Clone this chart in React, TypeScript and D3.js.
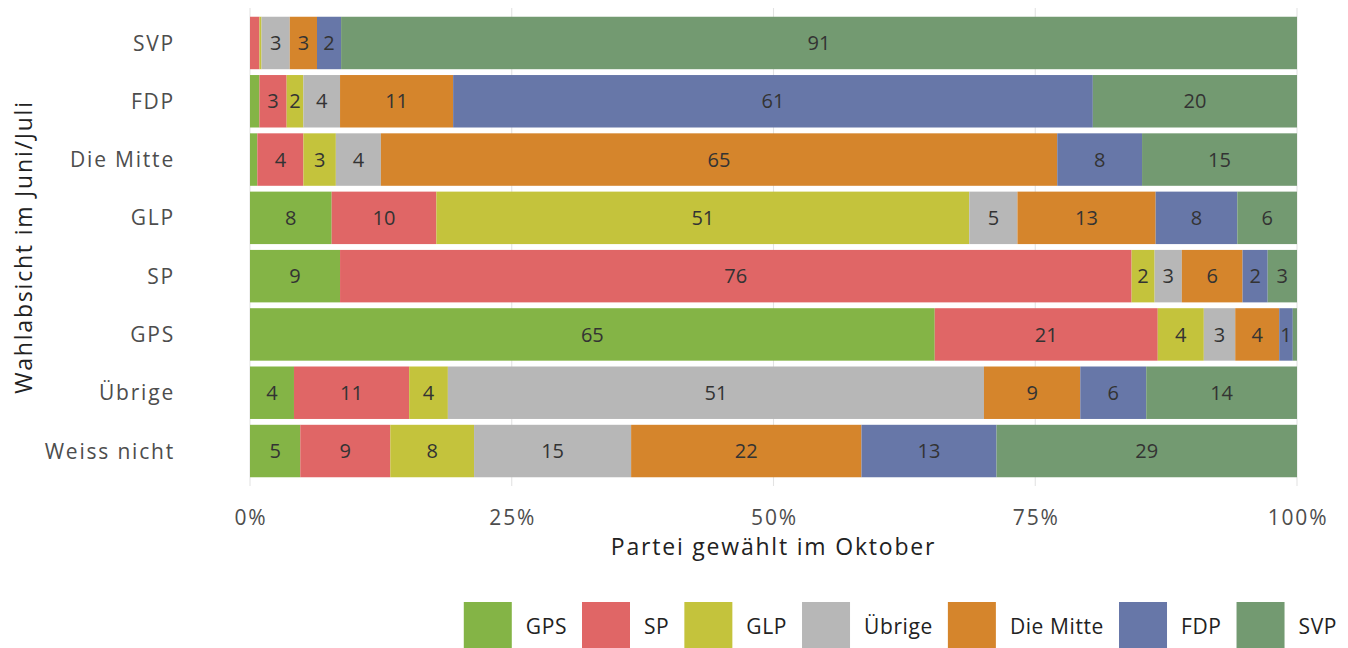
import React, { useEffect, useRef } from 'react';
import * as d3 from 'd3';

// rows from top to bottom (Wahlabsicht im Juni/Juli)
const rows = ['SVP', 'FDP', 'Die Mitte', 'GLP', 'SP', 'GPS', 'Übrige', 'Weiss nicht'];
// parties in stacking order (left to right)
const parties = ['GPS', 'SP', 'GLP', 'Übrige', 'Die Mitte', 'FDP', 'SVP'];
const partyColors = ['#84B446', '#E06666', '#C4C33C', '#B7B7B7', '#D5852C', '#6777A8', '#739A71'];

// share (%) per row, one array per party, in the order of `rows`
const gps = [0, 0.9, 0.7, 7.8, 8.6, 65.4, 4.2, 4.8];
const sp = [0.9, 2.6, 4.4, 10.0, 75.6, 21.3, 11.0, 8.6];
const glp = [0.2, 1.6, 3.1, 50.9, 2.2, 4.4, 3.7, 8.0];
const uebrige = [2.7, 3.5, 4.3, 4.6, 2.6, 3.0, 51.2, 15.0];
const mitte = [2.6, 10.8, 64.6, 13.2, 5.8, 4.2, 9.2, 22.0];
const fdp = [2.3, 61.1, 8.1, 7.8, 2.4, 1.3, 6.3, 12.9];
const svp = [91.3, 19.5, 14.8, 5.7, 2.8, 0.4, 14.4, 28.7];

const xTicks = [0, 25, 50, 75, 100];

const width = 1348;
const height = 648;
const mainFont = '"Open Sans", "Noto Sans", sans-serif';

export default function App() {
  const svgRef = useRef<SVGSVGElement>(null);

  useEffect(() => {
    const svg = d3.select(svgRef.current);
    svg.selectAll('*').remove();

    const series = [gps, sp, glp, uebrige, mitte, fdp, svp];
    const table = rows.map((r, i) => {
      const o: any = { row: r };
      parties.forEach((p, j) => (o[p] = series[j][i]));
      return o;
    });

    const x = d3.scaleLinear().domain([0, 100]).range([250, 1297]);
    const y = d3.scaleBand().domain(rows).range([8, 486]).paddingInner(0.1).paddingOuter(0.15);
    const color = d3.scaleOrdinal<string, string>().domain(parties).range(partyColors);

    // grid
    svg
      .append('g')
      .selectAll('line')
      .data(xTicks)
      .enter()
      .append('line')
      .attr('x1', d => x(d))
      .attr('x2', d => x(d))
      .attr('y1', 8)
      .attr('y2', 486)
      .attr('stroke', '#e3e3e3')
      .attr('stroke-width', 1.1);

    const stacked = d3.stack<any>().keys(parties)(table);

    const layers = svg
      .append('g')
      .selectAll('g')
      .data(stacked)
      .enter()
      .append('g')
      .attr('fill', d => color(d.key));

    layers
      .selectAll('rect')
      .data(d => d)
      .enter()
      .append('rect')
      .attr('x', d => x(d[0]))
      .attr('width', d => x(d[1]) - x(d[0]))
      .attr('y', d => y(d.data.row) as number)
      .attr('height', y.bandwidth());

    // segment labels
    layers
      .selectAll('text')
      .data(d => d.filter(s => s[1] - s[0] >= 1))
      .enter()
      .append('text')
      .attr('x', d => (x(d[0]) + x(d[1])) / 2)
      .attr('y', d => (y(d.data.row) as number) + y.bandwidth() / 2)
      .attr('dy', '0.36em')
      .attr('text-anchor', 'middle')
      .attr('fill', '#333333')
      .style('font-family', mainFont)
      .style('font-size', '20px')
      .text(d => Math.round(d[1] - d[0]));

    // y axis labels
    svg
      .append('g')
      .selectAll('text')
      .data(rows)
      .enter()
      .append('text')
      .attr('x', 175)
      .attr('y', d => (y(d) as number) + y.bandwidth() / 2)
      .attr('dy', '0.36em')
      .attr('text-anchor', 'end')
      .attr('fill', '#4d4d4d')
      .style('font-family', mainFont)
      .style('font-size', '21px')
      .style('letter-spacing', '1.8px')
      .text(d => d);

    // x axis labels
    svg
      .append('g')
      .selectAll('text')
      .data(xTicks)
      .enter()
      .append('text')
      .attr('x', d => x(d) + 1)
      .attr('y', 525)
      .attr('text-anchor', 'middle')
      .attr('fill', '#4d4d4d')
      .style('font-family', mainFont)
      .style('font-size', '21px')
      .style('letter-spacing', '1.8px')
      .text(d => `${d}%`);

    // axis titles
    svg
      .append('text')
      .attr('x', (x(0) + x(100)) / 2)
      .attr('y', 555)
      .attr('text-anchor', 'middle')
      .attr('fill', '#222')
      .style('font-family', mainFont)
      .style('font-size', '23px')
      .style('letter-spacing', '1.8px')
      .text('Partei gewählt im Oktober');

    svg
      .append('text')
      .attr('transform', `translate(32,${(8 + 486) / 2}) rotate(-90)`)
      .attr('text-anchor', 'middle')
      .attr('fill', '#222')
      .style('font-family', mainFont)
      .style('font-size', '23px')
      .style('letter-spacing', '1.8px')
      .text('Wahlabsicht im Juni/Juli');

    // legend, right aligned
    const legend = svg.append('g');
    const items = legend
      .selectAll('g')
      .data(parties)
      .enter()
      .append('g');
    items
      .append('rect')
      .attr('width', 48)
      .attr('height', 48)
      .attr('y', 602)
      .attr('fill', d => color(d));
    const labels = items
      .append('text')
      .attr('x', 62)
      .attr('y', 626)
      .attr('dy', '0.36em')
      .attr('fill', '#222')
      .style('font-family', mainFont)
      .style('font-size', '21px')
      .style('letter-spacing', '0.6px')
      .text(d => d);

    const widths: number[] = [];
    labels.each(function () {
      widths.push((this as SVGTextElement).getComputedTextLength());
    });
    const itemW = widths.map(w => 62 + w + 15);
    const total = d3.sum(itemW) - 15;
    let cx = 1337 - total;
    items.attr('transform', (_, i) => {
      const t = `translate(${cx},0)`;
      cx += itemW[i];
      return t;
    });
  }, []);

  return (
    <svg
      ref={svgRef}
      width={width}
      height={height}
      style={{ position: 'absolute', left: 0, top: 0, background: '#fff' }}
    />
  );
}
